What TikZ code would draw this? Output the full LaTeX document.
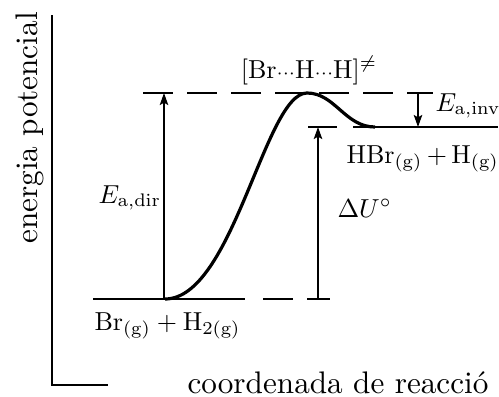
\documentclass[tikz,border=0pt]{standalone}
\usetikzlibrary{arrows.meta}
\begin{document}
\begin{tikzpicture}[x=0.5pt,y=-0.5pt,
  thinline/.style={line width=1pt},
  curveline/.style={line width=1.6pt},
  dashline/.style={line width=1pt,dash pattern=on 15pt off 7pt},
  arr/.style={line width=1pt,-{Stealth[length=6pt,width=4.2pt,inset=1.2pt]}},
  lbl/.style={inner sep=0pt,scale=1.3,transform shape},
  axislbl/.style={inner sep=0pt,scale=1.56,transform shape}]
\useasboundingbox (0,0) rectangle (499,397);
% axes
\coordinate (ytop) at (52,15);
\coordinate (orig) at (52,385);
\coordinate (xend) at (108,385);
\draw[thinline] (ytop) -- (orig) -- (xend);
\node[axislbl,rotate=90,anchor=base] (ylab) at (38,128) {energia potencial};
\node[axislbl,anchor=base] (xlab) at (338,393) {coordenada de reacció};
% levels
\coordinate (rL) at (93,299);
\coordinate (rS) at (165,299);
\coordinate (rM) at (245,299);
\coordinate (rD1) at (263,299);
\coordinate (rD2) at (330,299);
\coordinate (tL) at (143,93);
\coordinate (tR) at (433,93);
\coordinate (ts) at (307,93);
\coordinate (pD1) at (308,127);
\coordinate (pD2) at (337,127);
\coordinate (pL) at (353,127);
\coordinate (pC) at (375,127);
\coordinate (pR) at (498,127);
\draw[thinline] (rL) -- (rM);
\draw[dashline] (rD1) -- (rD2);
\draw[dashline] (tL) -- (tR);
\draw[thinline] (pD1) -- (pD2);
\draw[thinline] (pL) -- (pR);
% reaction curve
\draw[curveline] (rS) .. controls (233,299) and (265,93) .. (ts)
  .. controls (335,93) and (345,127) .. (pC);
% arrows
\coordinate (a1b) at (164,299);
\coordinate (a1t) at (164,93);
\coordinate (a2b) at (318,299);
\coordinate (a2t) at (318,127);
\coordinate (a3t) at (418,93);
\coordinate (a3b) at (418,127);
\draw[arr] (a1b) -- (a1t);
\draw[arr] (a2b) -- (a2t);
\draw[arr] (a3t) -- (a3b);
% labels
\node[lbl,anchor=base west] (eadir) at (98,203) {$E_{\mathrm{a,dir}}$};
\node[lbl,anchor=base west] (eainv) at (435,111) {$E_{\mathrm{a,inv}}$};
\node[lbl,anchor=base west] (du) at (337,217) {$\Delta U^{\circ}$};
\node[lbl,anchor=base] (tsl) at (309,78) {$[\mathrm{Br}{\scriptstyle\cdots}\mathrm{H}{\scriptstyle\cdots}\mathrm{H}]^{\neq}$};
\node[lbl,anchor=base west] (prod) at (346,163) {$\mathrm{HBr_{(g)}}\,{+}\,\mathrm{H_{(g)}}$};
\node[lbl,anchor=base west] (reac) at (94,330) {$\mathrm{Br_{(g)}} + \mathrm{H_{2(g)}}$};
\end{tikzpicture}
\end{document}
